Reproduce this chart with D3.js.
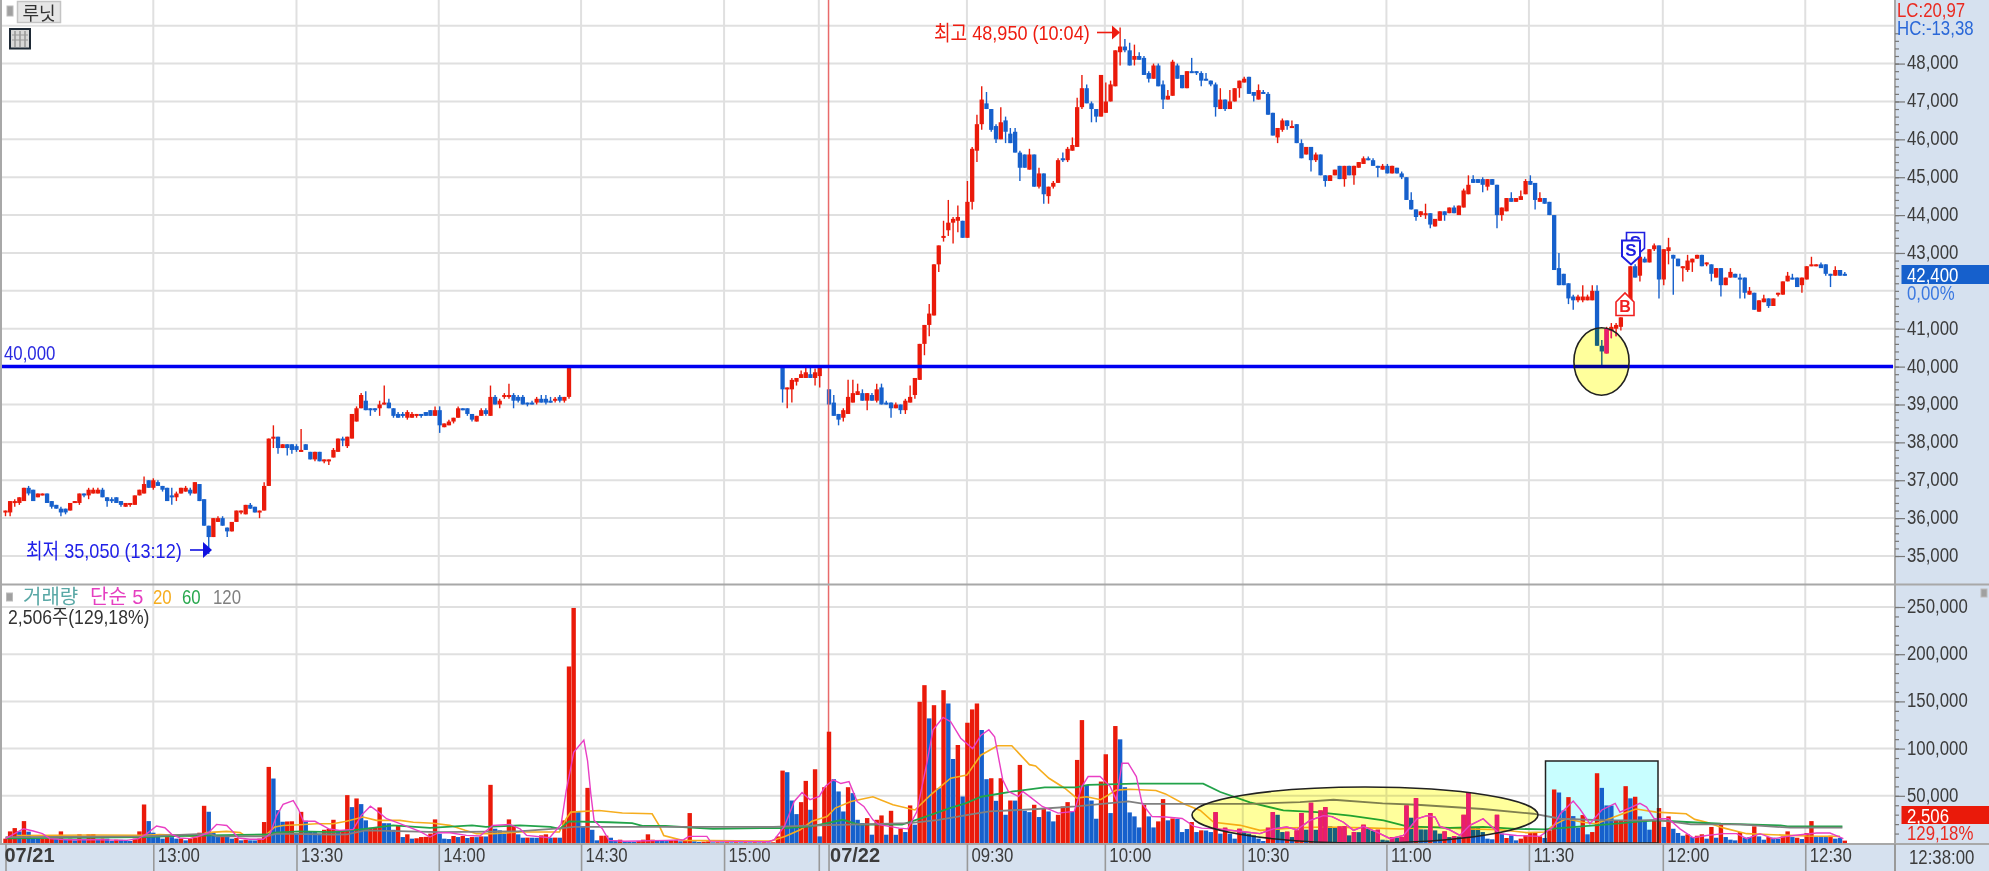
<!DOCTYPE html>
<html><head><meta charset="utf-8">
<script src="https://d3js.org/d3.v7.min.js"></script>
<style>
html,body{margin:0;padding:0;background:#fff;overflow:hidden}
text{font-family:"Liberation Sans","Noto Sans CJK KR",sans-serif}
</style></head><body><svg id="c" width="1989" height="871"></svg>
<script>
const anchorIndex=[0,122,178,301,391];
const opens=[36150,36150,36400,36400,36450,36800,36750,36550,36600,36650,
36450,36350,36250,36250,36200,36400,36400,36650,36600,36650,
36650,36750,36550,36500,36550,36450,36300,36350,36350,36600,
36650,37000,36800,36950,36850,36800,36600,36550,36650,36700,
36750,36650,36900,36500,35800,35500,35900,36000,35750,35650,
35900,36150,36100,36350,36300,36150,36200,36850,38100,38150,
37850,37950,37950,37900,37750,37950,37750,37550,37750,37500,37500,
37600,37750,38100,37900,38100,38550,38900,39100,38900,38900,
38900,39000,39050,38900,38750,38750,38650,38650,38700,38750,38800,
38850,38700,38850,38400,38450,38550,38650,38900,38900,38750,
38550,38700,38850,38700,39200,39000,39200,39200,39250,39200,
39200,39050,39050,39050,39150,39150,39100,39100,39200,39100,39200,
40000,40000,40000,40000,40000,40000,40000,40000,40000,40000,40000,40000,40000,40000,40000,
40000,40000,40000,40000,40000,40000,40000,40000,40000,40000,40000,40000,40000,40000,40000,
40000,40000,40000,40000,40000,40000,40000,40000,40000,40000,40000,40000,40000,40000,40000,
40000,39400,39400,39600,39700,39700,39800,39700,39750,40000,
39400,39050,38750,38650,38750,39050,39250,39300,39100,39250,
39100,39450,39050,39050,38900,39000,38850,39050,39250,39650,
40600,41100,41350,42700,43400,43600,43800,43850,43850,43400,
44350,45700,46400,46950,46800,46350,46000,46500,46150,46200,
45650,45600,45200,45600,44750,45100,44500,44750,44850,45500,
45450,45700,45800,46850,47350,46950,46800,46600,46700,47000,
47400,48300,48450,48350,48100,48200,48150,47750,47600,47950,
47450,47050,47150,47950,47700,47350,47800,47800,47750,47600,
47550,47450,46800,47050,46800,47000,47350,47500,47650,47250,
47050,47250,47200,46700,46050,46250,46500,46300,46400,45900,
45600,45800,45450,45600,45050,44900,45050,45300,44950,45300,
45050,45250,45350,45500,45450,45300,45200,45300,45100,45250,
45100,45000,44400,44150,44000,44000,44050,43700,43850,44100,
44050,44200,44000,44200,44550,44950,44950,44950,44750,44950,
44800,44000,44100,44450,44350,44400,44550,44900,44850,44350,
44450,44350,44000,42600,42450,42200,41850,41750,41750,41750,
41750,42000,40550,40350,40950,41000,41050,41350,41750,42650,
42400,42850,42750,43100,43200,42300,43050,42950,42850,42600,
42550,42750,42850,42950,42700,42700,42350,42600,42150,42350,
42450,42350,42350,41900,41950,41450,41700,41800,41600,41900,
41900,42250,42350,42350,42150,42300,42650,42650,42700,42700,
42450,42400,42550,42450];
const highs=[36200,36450,36500,36550,36800,36850,36750,36650,36650,36650,
36450,36350,36300,36250,36400,36450,36650,36650,36800,36800,
36800,36800,36550,36550,36550,36450,36400,36400,36600,36750,
37100,37000,37050,37000,36850,36800,36800,36700,36800,36850,
36800,36950,36900,36500,35800,36000,36050,36050,35750,35900,
36200,36200,36350,36400,36300,36200,36950,38100,38450,38150,
37950,37950,37950,37950,38350,37950,37750,37750,37750,37550,37550,
37850,38100,38150,38150,38750,38950,39300,39350,38900,38900,
39100,39500,39150,38900,38800,38800,38850,38800,38750,38750,38800,
38850,38950,38950,38500,38600,38650,38950,38900,38900,38750,
38700,38900,38900,39500,39250,39150,39300,39550,39300,39250,
39250,39050,39100,39200,39250,39250,39200,39200,39250,39200,40000,
40000,40000,40000,40000,40000,40000,40000,40000,40000,40000,40000,40000,40000,40000,40000,
40000,40000,40000,40000,40000,40000,40000,40000,40000,40000,40000,40000,40000,40000,40000,
40000,40000,40000,40000,40000,40000,40000,40000,40000,40000,40000,40000,40000,40000,40000,
40000,39450,39700,39700,39900,40000,40000,39950,40000,40000,
39400,39250,38750,38900,39650,39650,39550,39400,39300,39300,
39550,39550,39100,39050,39050,39000,39150,39500,39700,40600,
41100,41650,42700,43200,43850,44400,43950,44250,43850,44900,
45800,46650,47400,47250,46800,46400,46850,46600,46300,46300,
45700,45600,45750,45600,45250,45100,44750,44900,45500,45650,
45800,46050,47100,47700,47450,47000,46800,47700,47500,47550,
48350,48950,48650,48550,48500,48300,48200,47800,48000,48000,
47550,47300,48100,48000,47700,47800,48150,47800,47800,47750,
47550,47500,47350,47050,47300,47350,47550,47650,47650,47250,
47450,47300,47250,46700,46300,46550,46500,46500,46400,46000,
45800,45800,45650,45600,45050,45050,45200,45300,45300,45300,
45300,45400,45550,45550,45500,45300,45350,45350,45300,45250,
45150,45000,44600,44150,44100,44300,44050,43900,44100,44100,
44200,44250,44250,44700,45050,45050,44950,45000,44950,44950,
44800,44200,44450,44600,44450,44650,44950,45050,44850,44600,
44450,44350,44000,43000,42450,42200,41900,41900,42150,41900,
42150,42150,40700,41050,41150,41150,41300,41800,42650,42700,
42950,42900,43100,43250,43200,43100,43400,42950,42850,42650,
42950,42850,42950,42950,42750,42700,42600,42600,42350,42600,
42450,42450,42350,42100,41950,41750,41900,41800,41800,41950,
42250,42500,42450,42350,42350,42650,42900,42700,42750,42700,
42450,42650,42550,42500];
const lows=[36050,36050,36300,36350,36450,36600,36450,36550,36600,36400,
36250,36250,36050,36100,36200,36400,36350,36550,36500,36650,
36650,36550,36300,36400,36400,36300,36300,36300,36350,36600,
36650,36800,36750,36850,36700,36450,36350,36450,36650,36700,
36600,36650,36450,35800,35050,35500,35900,35800,35500,35650,
35900,36100,36100,36250,36150,36000,36200,36850,37850,37700,
37850,37650,37700,37750,37750,37800,37550,37500,37500,37450,37400,
37600,37750,37900,37850,38100,38550,38900,38850,38700,38800,
38700,39000,38900,38650,38650,38650,38600,38650,38650,38650,38700,
38700,38700,38250,38400,38450,38500,38650,38850,38700,38550,
38550,38700,38700,38700,39000,38900,39150,39150,38900,39050,
39000,38950,39000,39000,39050,39000,39050,39050,39050,39050,39150,
40000,40000,40000,40000,40000,40000,40000,40000,40000,40000,40000,40000,40000,40000,40000,
40000,40000,40000,40000,40000,40000,40000,40000,40000,40000,40000,40000,40000,40000,40000,
40000,40000,40000,40000,40000,40000,40000,40000,40000,40000,40000,40000,40000,40000,40000,
39050,38900,39050,39500,39700,39700,39700,39500,39450,40000,
39000,38700,38450,38550,38750,39050,39250,39100,38850,39100,
39050,39000,39000,38650,38900,38750,38750,39050,39150,39650,
40300,40800,41350,42500,43300,43450,43250,43550,43400,43400,
44150,45400,46250,46800,46200,45900,46000,45900,45900,45650,
44900,45250,45200,44750,44700,44300,44300,44700,44850,45400,
45400,45700,45800,46800,46950,46450,46450,46600,46700,47000,
47400,47950,48300,47950,47950,48100,47700,47500,47600,47400,
46800,47050,47150,47600,47350,47350,47750,47700,47400,47550,
47400,46600,46800,46750,46800,47000,47100,47500,47200,47000,
47050,47200,46650,46100,45900,46200,46250,46300,45900,45500,
45600,45150,45400,45050,44750,44900,45050,44950,44750,45050,
44800,45250,45350,45450,45300,45000,45200,45100,45100,45100,
44950,44400,44150,43850,43950,43900,43650,43700,43850,43850,
44050,44050,44000,44200,44550,44850,44850,44600,44650,44800,
43650,43850,44100,44350,44350,44400,44550,44800,44150,44350,
44300,44000,42550,42150,42150,41650,41500,41700,41700,41750,
41750,40550,40000,40350,40750,40800,40950,41350,41750,42350,
42250,42750,42750,43050,41800,42150,42700,41900,42650,42250,
42500,42500,42850,42650,42650,42250,42350,41850,42150,42350,
42350,41800,41800,41900,41500,41450,41700,41550,41600,41850,
41900,42250,42300,42100,41950,42300,42650,42650,42600,42400,
42100,42400,42400,42400];
const closes=[36200,36450,36450,36550,36800,36650,36450,36650,36650,36400,
36300,36250,36150,36150,36400,36450,36650,36600,36750,36750,
36750,36550,36450,36450,36400,36350,36400,36400,36600,36750,
36900,36800,37000,36850,36750,36450,36550,36650,36800,36800,
36650,36950,36450,35800,35500,36000,36000,35800,35650,35900,
36200,36200,36350,36250,36150,36200,36850,38100,38150,37850,
37950,37850,37800,37800,37800,37800,37550,37750,37500,37550,37550,
37800,38100,38050,38150,38750,38900,39250,38850,38850,38850,
39000,39050,38900,38700,38650,38700,38800,38750,38750,38700,38700,
38700,38850,38450,38500,38550,38650,38900,38850,38750,38600,
38700,38850,38750,39200,39000,39100,39250,39250,39100,39100,
39000,39000,39000,39150,39050,39050,39050,39150,39100,39200,40000,
40000,40000,40000,40000,40000,40000,40000,40000,40000,40000,40000,40000,40000,40000,40000,
40000,40000,40000,40000,40000,40000,40000,40000,40000,40000,40000,40000,40000,40000,40000,
40000,40000,40000,40000,40000,40000,40000,40000,40000,40000,40000,40000,40000,40000,40000,
39400,39450,39650,39700,39800,39850,39700,39850,40000,40000,
39000,38700,38600,38850,39200,39300,39350,39100,39300,39100,
39400,39000,39000,38900,39000,38850,39100,39200,39700,40600,
41100,41400,42700,43200,43450,43800,43900,43950,43400,44350,
45750,46400,47050,46800,46250,46000,46450,46200,45900,45650,
45250,45250,45600,44750,45100,44550,44750,44850,45450,45450,
45750,45850,46850,47350,46950,46800,46600,47700,47000,47450,
48350,48450,48350,47950,48200,48100,47700,47600,47950,47400,
47050,47150,48050,47600,47350,47800,47750,47750,47550,47550,
47450,46850,47050,46800,47000,47350,47550,47600,47200,47150,
47300,47200,46650,46100,46300,46500,46350,46350,45900,45500,
45800,45450,45600,45050,44900,45050,45200,44950,45300,45050,
45300,45400,45500,45450,45300,45250,45300,45100,45300,45100,
45000,44400,44150,43950,44100,44050,43750,43900,44100,44000,
44200,44050,44250,44650,44800,44850,44850,44800,44950,44800,
44000,44200,44450,44350,44450,44500,44900,44800,44400,44450,
44300,44000,42550,42150,42150,41800,41750,41850,41850,41850,
42000,40550,40400,41000,41050,41100,41300,41750,42650,42350,
42900,42750,43100,43200,42300,43100,43150,42850,42650,42650,
42800,42850,42950,42650,42750,42450,42600,42150,42350,42500,
42350,42300,41950,42000,41500,41750,41800,41600,41800,41950,
42250,42400,42300,42100,42350,42650,42700,42700,42600,42450,
42400,42550,42400,42400];
// volume, thousands of shares
const volumes=[4.6,12.3,15.8,12.2,23.2,12,4.5,4.4,4.6,4.6,
4.7,4.5,12.3,3.5,4.6,2.8,9.2,4.6,9.2,9.4,
4.6,4.8,4.6,2.1,3.5,3.4,3.3,2.1,4.6,12.3,
40.8,23.2,10.9,6.3,4.6,6.3,6.2,4.6,4.7,2.8,
4.6,9.2,10.9,39.4,33.1,10.9,8.1,8.5,8.4,4.6,
5.3,2.8,3.5,2.8,2.7,4.6,22.2,80.6,68.3,34.8,
22.5,22.8,23,10.6,33,23.6,12.3,11.6,9.9,14,
15,24.6,13.4,13.5,50.7,38,47.2,41.2,24,16.2,
16.9,37.7,21,20.9,14,18.6,6.3,9.2,4.6,5,
6.3,6.5,9.9,25,9.8,4.6,4.2,7.4,6.3,7.4,
5.3,6.3,6.2,7,6.9,61.6,15.1,13.4,9.9,25,18.6,
9.2,5.6,5.7,5.6,5.5,8.1,9.2,5.6,5.7,5.6,24,187,249,
32.7,16.9,58.4,14,2.8,7.7,7.8,5.6,2.8,3.5,1.8,1.4,1.4,2.1,3.5,9.2,3.5,2.8,2.1,2,2.8,2.9,1.8,2.8,31.7,1.8,1.1,1.4,1.8,
0.7,0.8,0.7,0.8,0.7,0.8,0.7,0.8,0.7,0.8,0.7,0.8,0.7,0.8,7,
76.7,75,45,30.6,43.3,65.8,35.2,78.1,7,59.1,
117.9,67.6,54.6,33.4,59.1,52.8,24.6,21.1,26.4,8.8,
24.6,29.2,8.8,34.1,8.7,15.1,11.6,39.8,19.4,149.6,
167.2,132,146,58,161.9,147.8,89,103.8,49.3,127.4,
141.5,147.8,119.7,67.6,68.6,44.7,68.6,29.9,45,44.9,
82.7,34.1,32.7,40.5,27.5,37,33.4,22.9,29.9,38.7,
43.3,33.4,88,130.2,61.6,45,25.7,65.1,94,31.7,
123.9,109.8,59.1,32.4,28.2,16.5,40.5,28.2,16.5,22.9,
46.5,24,26,25.5,11.6,14.8,22.2,11.6,13.4,
13.2,11.6,32.7,9.9,16.2,9.8,4.6,15.1,11.6,9.9,
8.1,4.6,2.1,16.2,32.7,29.9,11.6,12,6.3,13.4,
31.7,14.1,42.6,14,34.5,38,17.6,16.9,17.6,17.9,
8.1,11.6,11.5,19.4,15.1,12.7,14.1,3.5,2.8,6.3,
5.6,6.3,39.8,26.8,47.5,14.4,14.3,31.7,13.4,9.9,
12.3,6.3,7.4,6.9,29.9,53.9,16.2,16.1,11.6,4.6,
3.9,29.9,9.9,5.3,8.1,2.8,4.6,8.1,10.6,10.7,
7,5.3,13.4,56.7,
53.5,34.5,48.6,28.5,16.2,29.6,9.2,11.6,73.9,58.4,
39.8,39.7,23.9,23.9,60.2,47.3,49,28.2,23.2,14.1,
23.9,37,17,28.2,15.1,10.6,7.7,9.2,6.3,7.7,
9.2,4.6,17,5.6,19.7,6.3,3.5,2.8,11.6,5.6,
6.3,17.6,7,3.5,6.3,5.6,4.6,7,12.3,6.3,
5.6,4.2,10.6,23.2,6.3,6.3,6.3,7.7,4.6,5.3,2.506];
const volumeColors="rrrbrbbbrr"+"rbrbrbrbrr"+"brbbrbbbrr"+"rbbbbrbbrb"+"rrrrbbbrbb"+"rbrbbrrrbb"+"brrbrbbbbr"+"rrbrrbrbbr"+"rrbbbrbrb"+"rrrrrbbbrbr"+"brbrbrbbbrr"
+"bbrbbrrbrb"+"rrrbbrbbrr"+"bbrbbbrrrr"+"bbbrrbrrbb"+"rrbrbrbrbr"+"brbrbrr"
+"rbbbrrbrbr"+"rbbbrbbbrb"+"rrbrbrbrbr"+"rbrbrbbrbr"+"rrbbrbrbrb"+"rbbrbrbbrr"+"rbrrbbbrrb"+"rbbbbbrbbr"+"rbrbbbrbr"
+"bbrbrbbrbb"+"bbbrrbbrbr"+"rbrbrrbbrr"+"brbrbbrbbr"+"brrbrbbrbb"+"rbrbrrbbbb"+"brbrbbrrrr"+"rbrr"
+"bbrbbrbrrb"+"bbrrrbrbbb"+"rrbrbbbrbr"+"rbrbrbbbrb"+"brbbrbbrrb"+"rbrrbbbrbb"+"r";
const ma5Index=[0,3.9,6,8,9.6,13.2,20.4,26.2,28.8,30.6,32.7,34.5,36,37.8,39.9,42,43.9,45.7,47.9,49.3,50.4,52.9,55.8,57.3,58.7,60.1,62.3,63.4,64.5,67,70,72.4,75.3,77,79,80.7,82.5,84.7,87.2,89.7,91.9,93.7,96.2,99.8,102.7,105.5,109.2,111.4,112.8,117.8,120.3,121.4,122.4,123,125.2,126,126.7,127.4,129.2,130.6,134,143,146.7,147.8,151.7,152.4,165,166.2,
168.4,170.5,172.2,173.9,175.9,177.2,178.9,180.5,182.2,183.9,185.3,187.2,188.5,192.7,194.5,196.4,198.5,199.8,201.9,203.5,205.6,208.1,209.8,211.5,212.7,214.4,215.6,217.7,218.6,220.2,222.7,226,229.4,231,232.3,234.8,236.9,238.2,239.4,240.7,242.4,243.6,245.7,248.6,252,254.5,
256.1,259.3,263.5,268.3,271.1,273.9,276,278.8,281.6,283.4,285.8,287.9,290,292.8,295.6,298.4,301.2,303.3,305,306,308.1,310.2,312.3,315.1,316.2,318.6,322.1,327,329.8,
331.3,334,335.4,337.5,340,342.8,343.8,345.9,348,349.4,351,354,356.4,359.2,362,365.5,368.3,370.4,373.2,376,380.2,385.1,387.9,390.7];
const ma5Values=[4.6,15.1,12.7,9.9,4.6,3.5,3.5,2.8,4.6,9.9,18,16.2,9.2,5.3,4.6,7.4,10.6,19.7,18.6,11.6,5.3,3.9,3.9,9.9,29,41,45,36,23,23,15,13.4,14.4,29,39,33,25.7,21.8,17,12.3,6.3,10.9,10.9,8.1,7.4,18.6,19.7,15,8.1,5.6,20,55.6,80,96,109,87,52,24,15,2.8,1.8,2.8,3.5,7,7,2,1.4,3.5,
17.6,44,53.5,45.8,49.3,60,67,63,65,44,38.7,24.6,19.4,15.8,15,33,84.5,120,133,128.5,111,100,114,120,112.6,67,54.6,49.3,54.6,48.6,38.7,31.7,33.4,60,70.4,70.4,60,45.8,84.5,84.5,70.4,42,28,27.5,26,17.6,
15.8,15,12.7,9.9,15,17,14,24,29,28,22,13.4,17.6,11.6,4.6,8,25.7,29,27.5,17.6,14,8,18.7,25.7,20.4,9.9,8,7,17,
31,44.4,36,20.4,35,42,32.7,37.3,42,38,25.7,25.7,15,5.6,8,9.9,9.9,4.6,9.9,4.6,8,10.6,10.6,4.6];
const ma20Index=[2.4,19,29.8,33.4,38.9,41.4,43.5,47.9,50.8,51.5,56.5,58.3,60.1,63.7,67.4,70.9,73.8,77.4,80.3,85.4,88.3,92.6,96.2,99.5,102,105.6,111.4,119.9,121.4,122.4,128.5,133.5,139.9,141.4,142.4,146.4,165.6,
166.8,168.5,171.8,174.3,177.6,179.3,182.6,187.2,191.4,196,199.3,203.5,206.9,209.8,213.3,216.3,220,221.3,224.1,227.4,229.9,232,234.9,238.2,241.1,246.5,248.5,252.3,255.8,258.6,264.2,268.3,275.3,281.6,290.7,297.7,304.7,311.6,318.6,324.2,328,329.8,332.5,336,338.8,341.6,344.4,347.2,351.4,357.7,359.5,362,365.5,370.4,376,383,390];
const ma20Values=[8,8.5,8.2,9,8,6.3,11,12.3,11,8.8,8.8,17,18.6,19.4,20.4,20.4,23,27.5,24,24,22,21,18.7,13.4,9.9,9.9,11.6,11.6,25.7,32.7,34.5,31.7,31,18.7,8,2.8,2.1,
4.2,7,14,23,28,37,44,49,40.5,35,51,68.6,72,93,103,103,83,81.7,68.6,58,47.5,49,45.8,56,57,55.6,52,41.5,34.5,22,18.7,13.4,16,17,16,14.8,17,15,14,11,11.6,18.7,25.7,22,20.4,25.7,31,36,32.7,31,25,22,16,9.9,8.8,7.4,7];
const ma60Index=[0,29.8,36.3,56.5,58.3,63.7,71,77.4,83.9,91.9,101,104,111.4,118,120,122,130.6,135.6,138,142.8,153,163.4,168.5,174.3,180.9,184.2,193.3,198.3,203.3,206.6,209.9,216.6,223.2,229.8,232.3,242.2,247.2,256.4,260,266.2,273.2,280.2,287.2,294.2,299.1,308.1,315.1,322,328,334.5,341.2,348.2,351.8,358.7,365,377.5,379,390.5];
const ma60Values=[5,6.3,7.4,9,11,12.3,11.6,14.8,18.7,16,18.7,17,18.7,17,15,23,22,21,18,18,15,15.8,15.8,17.6,24.6,19.4,19.4,28,37,42,49,54.6,59,59,61.6,63,63,62.8,54,43,34.5,32.7,29,24,17.6,16,17,15,14.4,17,19.7,22.9,24,22,20.4,18.7,17.6,17.6];
const ma120Index=[0,29.8,44.2,45.7,56.5,58.7,71,73.9,78,94,111,120.6,123,166,173.5,195,201,207.4,211.6,221.6,229.8,240.7,244,254.8,266.2,276.7,283.7,294,301.2,315,325.6,331.3,341,348,351.8,358.7,369,379.5,390.5];
const ma120Values=[6.3,7,9.9,7,7,9.9,9,9.2,13.4,11.6,12.3,15.8,17,17,18.3,21,24.6,30,33.4,36,38.7,44,41.5,41.5,41.5,43.3,45.8,42,40.5,36,31,25.7,24,24,24.6,19.7,19.7,16.2,16.2];
const priceTicks=[35000,36000,37000,38000,39000,40000,41000,43000,44000,45000,46000,47000,48000];
const priceGrid=[35000,36000,37000,38000,39000,40000,41000,42000,43000,44000,45000,46000,47000,48000,49000];
const volumeTicks=[50,100,150,200,250];
const timeIndex=[0,32,63,93.8,124.6,155.4,175.8,177.9,206.9,235.8,264.7,294.8,324.7,352.8,382.7];
const timeLabels=["07/21","13:00","13:30","14:00","14:30","15:00","","07/22","09:30","10:00","10:30","11:00","11:30","12:00","12:30"];
const titleLine=40000, titleLineLabel="40,000";
const hiText="최고 48,950 (10:04)", loText="최저 35,050 (13:12)";
const legendTexts=["거래량","단순 5","20","60","120"];

const RED="#ea1a0a",BLUE="#1660cc",PINK="#e81e70",GRID="#e0e0e0",BAND="#d6e1ef",EDGE="#a8a8a8";

const svg=d3.select("#c");
const x=d3.scaleLinear().domain(anchorIndex).range([5.5,569,829,1416,1844.8]);
const yP=d3.scaleLinear().domain([35000,49000]).range([556,25.7]);
const yV=d3.scaleLinear().domain([0,250]).range([843,607]);
const idx=d3.range(opens.length);
const txt=(s,xx,yy,fill,size,extra)=>{const t=svg.append("text").attr("x",xx).attr("y",yy).attr("fill",fill).attr("font-size",size).attr("dominant-baseline","central").text(s);if(extra)extra(t);return t;};

// grid
const g=svg.append("g").attr("stroke",GRID).attr("stroke-width",2);
timeIndex.forEach((t,k)=>{if(timeLabels[k]!=="07/22"&&k>0)g.append("line").attr("x1",x(t)).attr("x2",x(t)).attr("y1",0).attr("y2",843);});
priceGrid.forEach(v=>g.append("line").attr("x1",2).attr("x2",1895).attr("y1",yP(v)).attr("y2",yP(v)));
volumeTicks.forEach(v=>g.append("line").attr("x1",2).attr("x2",1895).attr("y1",yV(v)).attr("y2",yV(v)));

// candles (bars locked flat at the limit price sit hidden behind the 40,000 line)
const drawCandles=(sel,ids,colorFn)=>{
  sel.selectAll("line.w").data(ids).join("line").attr("class","w").attr("x1",i=>x(i)).attr("x2",i=>x(i)).attr("y1",i=>yP(highs[i])).attr("y2",i=>yP(lows[i])).attr("stroke",colorFn).attr("stroke-width",1.4);
  sel.selectAll("rect.b").data(ids).join("rect").attr("class","b").attr("x",i=>x(i)-2.15).attr("width",4.3).attr("y",i=>Math.min(yP(opens[i]),yP(closes[i]))).attr("height",i=>Math.max(2,Math.abs(yP(opens[i])-yP(closes[i])))).attr("fill",colorFn);
};
drawCandles(svg.append("g"),idx.filter(i=>highs[i]>lows[i]),i=>closes[i]>=opens[i]?RED:BLUE);

// red day marker
svg.append("line").attr("x1",x(177.9)).attr("x2",x(177.9)).attr("y1",0).attr("y2",843).attr("stroke","#e86a6a").attr("stroke-width",1.5);

// 40,000 line
svg.append("line").attr("x1",2).attr("x2",1893).attr("y1",yP(titleLine)).attr("y2",yP(titleLine)).attr("stroke","#0000f0").attr("stroke-width",3.5);
txt(titleLineLabel,4,353,"#2a2ae0",20);

// yellow circle on price pane
const defs=svg.append("defs");
defs.append("clipPath").attr("id","cp").append("ellipse").attr("cx",1601.5).attr("cy",361.5).attr("rx",27.6).attr("ry",33.7);
defs.append("clipPath").attr("id","ce").append("ellipse").attr("cx",1365).attr("cy",815).attr("rx",173).attr("ry",28);
svg.append("ellipse").attr("cx",1601.5).attr("cy",361.5).attr("rx",27.6).attr("ry",33.7).attr("fill","#ffff9c").style("mix-blend-mode","multiply");
drawCandles(svg.append("g").attr("clip-path","url(#cp)"),idx.filter(i=>closes[i]>opens[i]),()=>PINK);
svg.append("ellipse").attr("cx",1601.5).attr("cy",361.5).attr("rx",27.6).attr("ry",33.7).attr("fill","none").attr("stroke","#222").attr("stroke-width",1.6);

// annotations
txt(hiText,934,32,"#ee1c10",21);
txt(loText,26,550,"#2020e8",21);
const arrow=(x0,x1,y,col,h,w)=>{
  svg.append("line").attr("x1",x0).attr("x2",x1-w).attr("y1",y).attr("y2",y).attr("stroke",col).attr("stroke-width",1.6);
  svg.append("path").attr("d",`M${x1-w},${y-h}L${x1},${y}L${x1-w},${y+h}Z`).attr("fill",col);
};
arrow(1097,1120,32.5,"#ee1c10",7,8);
arrow(190,212,550,"#1010e0",8,9);

// signal markers
const sMark=(cx,top,w,h,lab,col,sw)=>{
  svg.append("path").attr("d",`M${cx-w/2},${top}H${cx+w/2}V${top+h*0.66}L${cx},${top+h}L${cx-w/2},${top+h*0.66}Z`).attr("fill","#fff").attr("stroke",col).attr("stroke-width",sw);
  if(lab)txt(lab,cx,top+h*0.42,col,17,t=>t.attr("text-anchor","middle").attr("font-weight","bold"));
};
sMark(1635.5,232.5,18,24,"S","#2020e0",1.6);
sMark(1631,240.5,18,24,"S","#2020e0",2);
svg.append("path").attr("d","M1616,315.5H1634V302L1625,293L1616,302Z").attr("fill","#fff").attr("stroke","#f02020").attr("stroke-width",1.6);
txt("B",1625,306,"#f02020",16,t=>t.attr("text-anchor","middle").attr("font-weight","bold"));

// volume pane: cyan box, bars, averages
svg.append("rect").attr("x",1545.5).attr("y",761).attr("width",112.5).attr("height",82).attr("fill","#c8feff");
const vg=svg.append("g");
const isRed=i=>volumeColors[i]==="r";
vg.selectAll("rect").data(idx).join("rect").attr("x",i=>x(i)-2.2).attr("width",4.4).attr("y",i=>yV(volumes[i])).attr("height",i=>yV(0)-yV(volumes[i])).attr("fill",i=>isRed(i)?RED:BLUE);
const maLine=(ix,vals,col,w,parent)=>(parent||svg).append("path").datum(ix.map((t,k)=>[t,vals[k]])).attr("fill","none").attr("stroke",col).attr("stroke-width",w).attr("d",d3.line().x(d=>x(d[0])).y(d=>yV(d[1])));
const MA5="#e93fc4",MA20="#f6ad1e",MA60="#22a34a",MA120="#808080";
maLine(ma20Index,ma20Values,MA20,1.6);
maLine(ma60Index,ma60Values,MA60,1.8);
maLine(ma120Index,ma120Values,MA120,1.8);
maLine(ma5Index,ma5Values,MA5,1.4);
svg.append("rect").attr("x",1545.5).attr("y",761).attr("width",112.5).attr("height",82).attr("fill","none").attr("stroke","#222").attr("stroke-width",1.5);

// yellow ellipse on volume pane
svg.append("ellipse").attr("cx",1365).attr("cy",815).attr("rx",173).attr("ry",28).attr("fill","#ffff9c").style("mix-blend-mode","multiply");
const clipG=svg.append("g").attr("clip-path","url(#ce)");
clipG.selectAll("rect").data(idx.filter(isRed)).join("rect").attr("x",i=>x(i)-2.2).attr("width",4.4).attr("y",i=>yV(volumes[i])).attr("height",i=>yV(0)-yV(volumes[i])).attr("fill",PINK);
maLine(ma5Index,ma5Values,MA5,1.4,clipG);
svg.append("ellipse").attr("cx",1365).attr("cy",815).attr("rx",173).attr("ry",28).attr("fill","none").attr("stroke","#222").attr("stroke-width",1.6);

// bands and frame
svg.append("rect").attr("x",1895).attr("y",0).attr("width",94).attr("height",871).attr("fill",BAND);
svg.append("rect").attr("x",0).attr("y",844).attr("width",1989).attr("height",27).attr("fill",BAND);
svg.append("rect").attr("x",0).attr("y",0).attr("width",2).attr("height",844).attr("fill",EDGE);
svg.append("line").attr("x1",0).attr("x2",1895).attr("y1",584.5).attr("y2",584.5).attr("stroke",EDGE).attr("stroke-width",2);
svg.append("line").attr("x1",0).attr("x2",1989).attr("y1",844).attr("y2",844).attr("stroke",EDGE).attr("stroke-width",2);
svg.append("line").attr("x1",1895).attr("x2",1895).attr("y1",0).attr("y2",871).attr("stroke",EDGE).attr("stroke-width",2);
svg.append("line").attr("x1",1895).attr("x2",1989).attr("y1",584.5).attr("y2",584.5).attr("stroke",EDGE).attr("stroke-width",2);

// right axes
const styleAxis=(a,size)=>{a.select(".domain").remove();a.selectAll("line").attr("stroke","#777").attr("stroke-width",1.2);a.selectAll("text").attr("fill","#3c3c3c").attr("font-size",size).attr("transform","translate(0,-1)");};
const fmt=d3.format(",");
const minorP=d3.range(35000,49000,200), minorV=d3.range(10,260,10);
styleAxis(svg.append("g").attr("transform","translate(1895,0)").call(d3.axisRight(yP).tickValues(minorP).tickSize(4).tickFormat("")),0);
styleAxis(svg.append("g").attr("transform","translate(1895,0)").call(d3.axisRight(yP).tickValues(priceTicks).tickSize(10).tickPadding(2).tickFormat(fmt)),20);
styleAxis(svg.append("g").attr("transform","translate(1895,0)").call(d3.axisRight(yV).tickValues(minorV).tickSize(4).tickFormat("")),0);
styleAxis(svg.append("g").attr("transform","translate(1895,0)").call(d3.axisRight(yV).tickValues(volumeTicks).tickSize(10).tickPadding(2).tickFormat(d=>fmt(d*1000))),20);

// bottom axis
const bx=svg.append("g").attr("transform","translate(0,844)").call(d3.axisBottom(x).tickValues(timeIndex).tickSize(27).tickFormat((d,k)=>timeLabels[k]));
bx.select(".domain").remove();
bx.selectAll("line").attr("stroke","#999").attr("stroke-width",1.6);
bx.selectAll("text").attr("fill","#3c3c3c").attr("font-size",20).attr("text-anchor","start").attr("dx",4).attr("dy","0.3em")
  .attr("y",12).attr("font-weight",(d,k)=>timeLabels[k].includes("/")?"bold":"normal");
bx.selectAll(".tick").filter((d,k)=>k===0).select("text").attr("x",-5.5);
bx.selectAll(".tick").filter((d,k)=>k===7).select("text").attr("x",-3);
txt("12:38:00",1909,857,"#3c3c3c",20);
svg.append("line").attr("x1",1895).attr("x2",1895).attr("y1",844).attr("y2",871).attr("stroke","#999").attr("stroke-width",2);

// right readouts
txt("LC:20,97",1897,10,"#ea2a20",20);
txt("HC:-13,38",1897,28,"#2a68d8",20);
svg.append("rect").attr("x",1901.5).attr("y",265).attr("width",87.5).attr("height",19).attr("fill",BLUE);
txt("42,400",1907,275,"#fff",20);
txt("0,00%",1907,293,"#3b78e0",20);
svg.append("rect").attr("x",1901.5).attr("y",806).attr("width",87.5).attr("height",18).attr("fill",RED);
txt("2,506",1907,815.5,"#fff",20);
txt("129,18%",1907,833,"#ea2a20",20);

// top-left controls
svg.append("rect").attr("x",7).attr("y",6).attr("width",6).attr("height",10).attr("fill","#a0a0a0").attr("stroke","#bbb");
svg.append("rect").attr("x",17.5).attr("y",1.5).attr("width",43).attr("height",21).attr("fill","#e6e6e6").attr("stroke","#c4c4c4").attr("stroke-width",1.5);
txt("루닛",39,12,"#333",18,t=>t.attr("text-anchor","middle").style("font-family","Noto Sans CJK KR"));
svg.append("rect").attr("x",10).attr("y",29).attr("width",20).attr("height",19.5).attr("fill","#d8d8d8").attr("stroke","#1f2a36").attr("stroke-width",2);
[15,20,25].forEach(p=>svg.append("line").attr("x1",p).attr("x2",p).attr("y1",31).attr("y2",47).attr("stroke","#777"));
[35,40].forEach(p=>svg.append("line").attr("x1",12).attr("x2",28).attr("y1",p).attr("y2",p).attr("stroke","#999"));

// volume legend
svg.append("rect").attr("x",6.5).attr("y",593).attr("width",6).attr("height",8).attr("fill","#a0a0a0").attr("stroke","#bbb");
svg.append("rect").attr("x",1981).attr("y",589).attr("width",6).attr("height",8).attr("fill","#a0a0a0").attr("stroke","#bbb");
txt(legendTexts[0],23,597,"#5aa8a6",20);
txt(legendTexts[1],90,597,"#e53fc0",20);
txt(legendTexts[2],153,597,MA20,20);
txt(legendTexts[3],182,597,"#28a84e",20);
txt(legendTexts[4],213,597,"#808080",20);
txt("2,506주(129,18%)",8,617,"#333",20);

// the reference's bitmap font is narrow: condense Latin text to match
const keepWidth=new Set(["거래량","단순 5","루닛","07/21","07/22","B","S"]);
svg.selectAll("text").each(function(){
  const s=this.textContent;
  if(!s||keepWidth.has(s))return;
  const ratio=s.startsWith("최")?0.86:(s.includes("주")?0.88:0.84);
  d3.select(this).attr("textLength",this.getComputedTextLength()*ratio).attr("lengthAdjust","spacingAndGlyphs");
});
</script></body></html>
